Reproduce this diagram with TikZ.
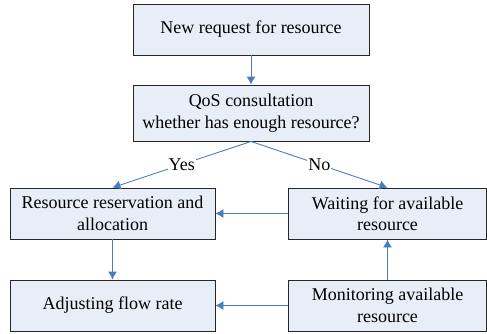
\documentclass[tikz,border=0pt]{standalone}
\usepackage{fontspec}
\setmainfont{Liberation Serif}
\newfontfamily\boxserif{Liberation Serif}
\usetikzlibrary{arrows.meta}
\definecolor{boxfill}{HTML}{E8EEF8}
\definecolor{flowblue}{HTML}{4A7EBB}
\tikzset{
  stepbox/.style={draw=black!85, fill=boxfill, line width=0.9pt, align=center,
    font=\boxserif\fontsize{18}{21.5}\selectfont, inner sep=0pt},
  flow/.style={draw=flowblue, line width=0.9pt, -{Latex[length=8pt,width=9pt]}},
  tag/.style={fill=white, inner sep=1pt, font=\boxserif\fontsize{18}{21.5}\selectfont}
}
\begin{document}
\begin{tikzpicture}[x=1pt,y=-1pt]
\useasboundingbox (0,0) rectangle (487,333);
% process boxes
\node[stepbox, minimum width=236pt, minimum height=51pt] (req) at (251,29.5) {New request for resource};
\node[stepbox, minimum width=236pt, minimum height=56pt] (qos) at (251,113) {QoS consultation\\whether has enough resource?};
\node[stepbox, minimum width=205pt, minimum height=51pt] (res) at (112.5,213.5) {Resource reservation and\\allocation};
\node[stepbox, minimum width=198pt, minimum height=51pt] (wait) at (387.5,213.5) {Waiting for available\\resource};
\node[stepbox, minimum width=205pt, minimum height=51pt] (adj) at (112.5,305.5) {Adjusting flow rate};
\node[stepbox, minimum width=198pt, minimum height=51pt] (mon) at (387.5,305.5) {Monitoring available\\resource};
% connectors
\draw[flow] (req) -- (qos);
\draw[flow] (qos.south) -- node[tag] {Yes} (res.north);
\draw[flow] (qos.south) -- node[tag] {No} (wait.north);
\draw[flow] (wait.west) -- (res.east);
\draw[flow] (mon.north) -- (wait.south);
\draw[flow] (mon.west) -- (adj.east);
\draw[flow] (res) -- (adj);
\end{tikzpicture}
\end{document}
